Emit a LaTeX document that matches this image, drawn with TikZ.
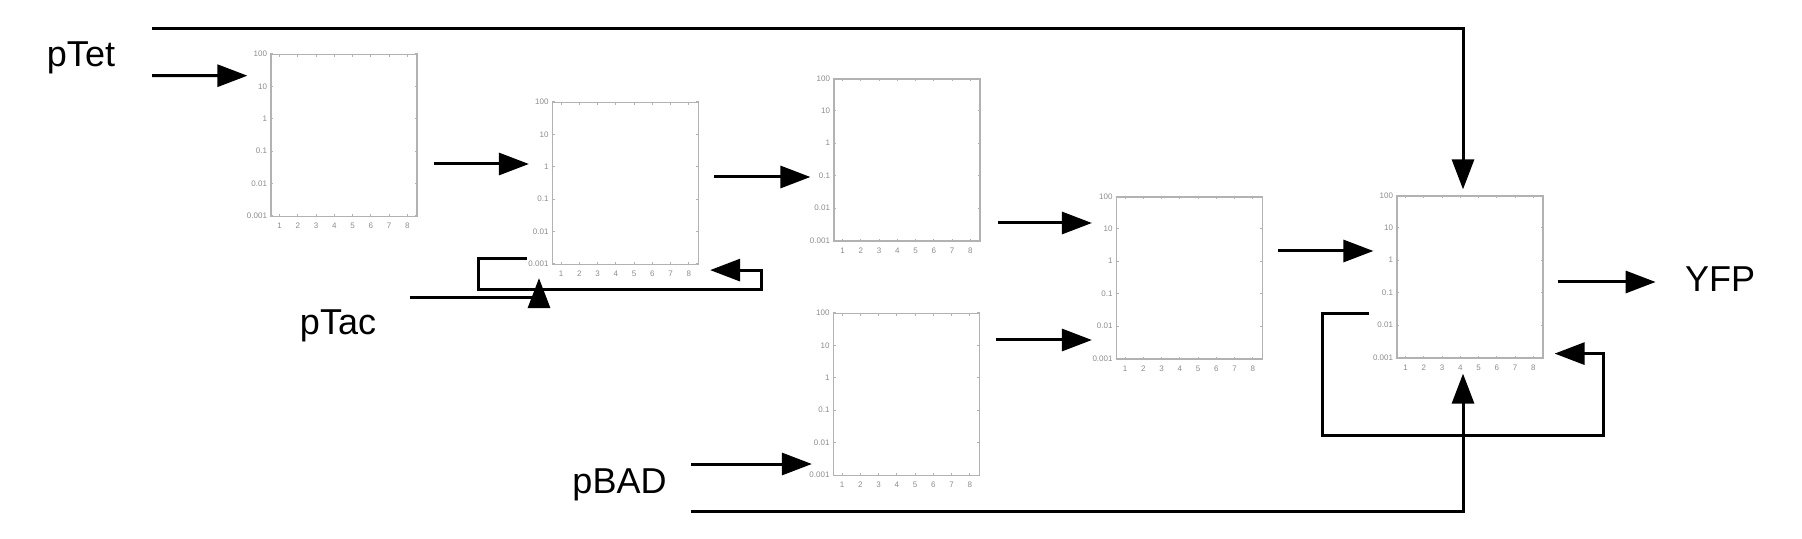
\documentclass[tikz,border=0pt]{standalone}
\usepackage{fontspec}
\setmainfont{Liberation Sans}
\usetikzlibrary{arrows.meta}

\begin{document}
\begin{tikzpicture}[
    x=0.5pt, y=-0.5pt,
    plotnode/.style  = {rectangle, draw=black!30, line width=0.6pt, fill=white,
                        minimum width=73pt, minimum height=81pt, inner sep=0pt},
    labelnode/.style = {font=\fontsize{18}{21}\selectfont, inner sep=0pt, anchor=base},
    ticknode/.style  = {font=\fontsize{4}{5}\selectfont, text=black!45, inner sep=0pt},
    tickline/.style  = {draw=black!30, line width=0.4pt},
    wire/.style      = {line width=1.5pt},
    arr/.style       = {wire, -{Triangle[length=15pt, width=11pt]}},
]
    \useasboundingbox (0,0) rectangle (1802,539);

    %Nodes
    \node[plotnode]  (b1) at (344,135.5)   {};
    \node[plotnode]  (b2) at (625.5,183.5) {};
    \node[plotnode]  (b3) at (907,160)     {};
    \node[plotnode]  (b4) at (906.5,394.5) {};
    \node[plotnode]  (b5) at (1189.5,278)  {};
    \node[plotnode]  (b6) at (1470,277)    {};

    \node[labelnode] (ptet) at (81,67)      {pTet};
    \node[labelnode] (ptac) at (338,335)    {pTac};
    \node[labelnode] (pbad) at (619.5,493)  {pBAD};
    \node[labelnode] (yfp)  at (1720,292)   {YFP};

    \coordinate (tettop) at (152,29);
    \coordinate (tetin)  at (152,75.7);
    \coordinate (tacin)  at (410,298);
    \coordinate (badin)  at (691,464);
    \coordinate (badlow) at (691,511);

    %Axes
    \foreach \i in {1,...,6} {
        \foreach \v [count=\k from 0] in {100,10,1,0.1,0.01,0.001} {
            \node[ticknode, anchor=east] at ([shift={(-3,\k*32.4)}]b\i.north west) {\v};
            \draw[tickline] ([shift={(0,\k*32.4)}]b\i.north west) -- ++(3,0);
            \draw[tickline] ([shift={(0,\k*32.4)}]b\i.north east) -- ++(-3,0);
        }
        \foreach \j in {1,...,8} {
            \node[ticknode] at ([shift={({(\j-0.5)*18.25},9)}]b\i.south west) {\j};
            \draw[tickline] ([shift={({(\j-0.5)*18.25},0)}]b\i.south west) -- ++(0,-3);
            \draw[tickline] ([shift={({(\j-0.5)*18.25},0)}]b\i.north west) -- ++(0,3);
        }
    }

    %Lines
    \draw[arr] (tettop) -| ([shift={(-7,-6)}]b6.north);
    \draw[arr] (tetin) -- ([shift={(-23,-59.8)}]b1.west);
    \draw[arr] ([shift={(16,28.5)}]b1.east) -- ([shift={(-23,-19.5)}]b2.west);
    \draw[arr] ([shift={(15,-6.5)}]b2.east) -- ([shift={(-23,17)}]b3.west);
    \draw[arr] ([shift={(17,63)}]b3.east) -- ([shift={(-24,-55)}]b5.west);
    \draw[arr] ([shift={(16,-54.5)}]b4.east) -- ([shift={(-24,62)}]b5.west);
    \draw[arr] ([shift={(15,-27)}]b5.east) -- ([shift={(-23,-26)}]b6.west);
    \draw[arr] ([shift={(14,5)}]b6.east) -- ([shift={(112,5)}]b6.east);
    \draw[arr] (badin) -- ([shift={(-21,69.5)}]b4.west);
    \draw[arr] (badlow) -| ([shift={(-7,15)}]b6.south);
    \draw[arr] (tacin) -| ([shift={(-86.5,13)}]b2.south);

    %Feedback
    \draw[arr] ([shift={(-25,-7)}]b2.south west) -- ++(-48,0) -- ++(0,31)
               -- ++(283,0) |- ([shift={(11,5)}]b2.south east);
    \draw[arr] ([shift={(-27,-45)}]b6.south west) -- ++(-47,0) -- ++(0,122)
               -- ++(281,0) |- ([shift={(11,-5)}]b6.south east);
\end{tikzpicture}
\end{document}
